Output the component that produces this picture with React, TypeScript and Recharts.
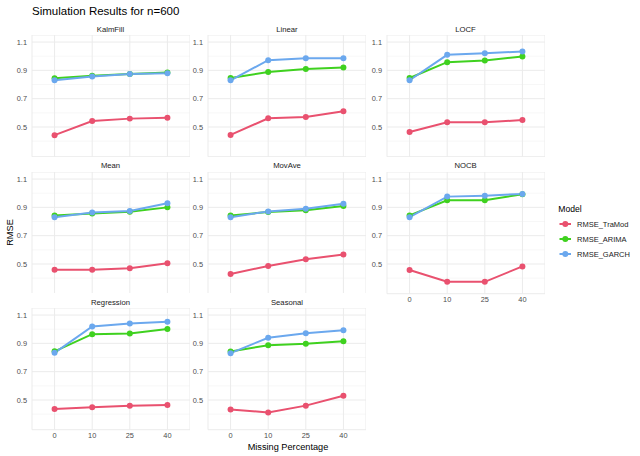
import React from "react";
import { LineChart, Line, XAxis, YAxis, CartesianGrid } from "recharts";

const categories = ["0", "10", "25", "40"];
const methods = ["KalmFill", "Linear", "LOCF", "Mean", "MovAve", "NOCB", "Regression", "Seasonal"];
const seriesNames = ["RMSE_TraMod", "RMSE_ARIMA", "RMSE_GARCH"];
const traMod = [
  [0.442, 0.542, 0.559, 0.566],
  [0.444, 0.561, 0.57, 0.611],
  [0.465, 0.533, 0.533, 0.549],
  [0.46, 0.46, 0.469, 0.505],
  [0.429, 0.486, 0.533, 0.567],
  [0.457, 0.374, 0.374, 0.483],
  [0.437, 0.449, 0.46, 0.465],
  [0.433, 0.412, 0.46, 0.53],
];
const arima = [
  [0.845, 0.862, 0.875, 0.885],
  [0.846, 0.888, 0.909, 0.921],
  [0.846, 0.958, 0.97, 0.998],
  [0.843, 0.857, 0.869, 0.9],
  [0.843, 0.867, 0.88, 0.91],
  [0.843, 0.95, 0.95, 0.993],
  [0.844, 0.965, 0.97, 1.002],
  [0.843, 0.887, 0.897, 0.915],
];
const garch = [
  [0.83, 0.857, 0.875, 0.88],
  [0.83, 0.972, 0.986, 0.986],
  [0.83, 1.01, 1.021, 1.033],
  [0.831, 0.864, 0.874, 0.929],
  [0.831, 0.871, 0.89, 0.926],
  [0.831, 0.976, 0.983, 0.995],
  [0.833, 1.019, 1.04, 1.052],
  [0.831, 0.94, 0.972, 0.993],
];
const yTicks = [0.5, 0.7, 0.9, 1.1];
const yMinor = [0.4, 0.6, 0.8, 1.0];

const colors = ["#E9516F", "#3FD11F", "#6BA8EE"];
const FONT = "'Liberation Sans', Arial, Helvetica, sans-serif";

const colLefts = [31.5, 208, 386.5];
const rowTops = [35, 171.5, 308.3];
const PW = 158;
const PH = 121.7;
const YW = 28;
const XH = 14;
const pad = (PW / 4.2) * 0.6;

// panel layout: [method index, col, row, show x labels]
const layout: [number, number, number, boolean][] = [
  [0, 0, 0, false],
  [1, 1, 0, false],
  [2, 2, 0, false],
  [3, 0, 1, false],
  [4, 1, 1, false],
  [5, 2, 1, true],
  [6, 0, 2, true],
  [7, 1, 2, true],
];

function Panel({ idx, col, row, showX }: { idx: number; col: number; row: number; showX: boolean }) {
  const data = categories.map((c, i) => ({
    pct: c,
    RMSE_TraMod: traMod[idx][i],
    RMSE_ARIMA: arima[idx][i],
    RMSE_GARCH: garch[idx][i],
  }));
  const series = [seriesNames[0], seriesNames[1], seriesNames[2]];
  return (
    <div style={{ position: "absolute", left: colLefts[col] - YW, top: rowTops[row] }}>
      <LineChart
        width={YW + PW}
        height={PH + (showX ? XH : 0)}
        data={data}
        margin={{ top: 0, right: 0, bottom: 0, left: 0 }}
      >
        <CartesianGrid stroke="#F1F1F1" strokeWidth={0.6} vertical={false} horizontalValues={yMinor} />
        <CartesianGrid stroke="#EBEBEB" strokeWidth={1} />
        <XAxis
          dataKey="pct"
          type="category"
          hide={!showX}
          height={showX ? XH : 0}
          padding={{ left: pad, right: pad }}
          tickLine={false}
          axisLine={false}
          interval={0}
          tickSize={2}
          tickMargin={1}
          tick={{ fontSize: 7.4, fill: "#4D4D4D", fontFamily: FONT }}
        />
        <YAxis
          type="number"
          width={YW}
          domain={[0.29, 1.15]}
          ticks={yTicks}
          allowDataOverflow
          tickLine={false}
          axisLine={false}
          tickSize={3}
          tickMargin={2}
          tick={{ fontSize: 7.4, fill: "#4D4D4D", fontFamily: FONT }}
        />
        {series.map((s, i) => (
          <Line
            key={s}
            dataKey={s}
            type="linear"
            stroke={colors[i]}
            strokeWidth={2}
            dot={{ r: 3, fill: colors[i], stroke: "none" }}
            activeDot={false}
            isAnimationActive={false}
          />
        ))}
      </LineChart>
    </div>
  );
}

export default function App() {
  return (
    <div
      style={{
        position: "absolute",
        left: 0,
        top: 0,
        width: 640,
        height: 456,
        background: "#FFFFFF",
        fontFamily: FONT,
        overflow: "hidden",
      }}
    >
      <svg width={640} height={456} style={{ position: "absolute", left: 0, top: 0 }}>
        <text x={32} y={10.5} fontSize={11.5} fill="#000" dominantBaseline="central" fontFamily={FONT}>
          Simulation Results for n=600
        </text>
        {layout.map(([idx, col, row]) => (
          <text
            key={"s" + idx}
            x={colLefts[col] + PW / 2}
            y={rowTops[row] - 6}
            fontSize={7.7}
            fill="#1A1A1A"
            textAnchor="middle"
            dominantBaseline="central"
            fontFamily={FONT}
          >
            {methods[idx]}
          </text>
        ))}
        <text
          x={288}
          y={446.7}
          fontSize={9.2}
          fill="#000"
          textAnchor="middle"
          dominantBaseline="central"
          fontFamily={FONT}
        >
          Missing Percentage
        </text>
        <text
          x={10}
          y={232.5}
          fontSize={9.2}
          fill="#000"
          textAnchor="middle"
          dominantBaseline="central"
          transform="rotate(-90 10 232.5)"
          fontFamily={FONT}
        >
          RMSE
        </text>
        <text x={558.3} y={209} fontSize={8.6} fill="#000" dominantBaseline="central" fontFamily={FONT}>
          Model
        </text>
        {seriesNames.map((s, i) => {
          const y = 224 + i * 15;
          return (
            <g key={s}>
              <line x1={559.5} x2={571} y1={y} y2={y} stroke={colors[i]} strokeWidth={2} />
              <circle cx={565.3} cy={y} r={3} fill={colors[i]} />
              <text x={577} y={y} fontSize={7.5} fill="#1A1A1A" dominantBaseline="central" fontFamily={FONT}>
                {s}
              </text>
            </g>
          );
        })}
      </svg>
      {layout.map(([idx, col, row, showX]) => (
        <Panel key={idx} idx={idx} col={col} row={row} showX={showX} />
      ))}
    </div>
  );
}
